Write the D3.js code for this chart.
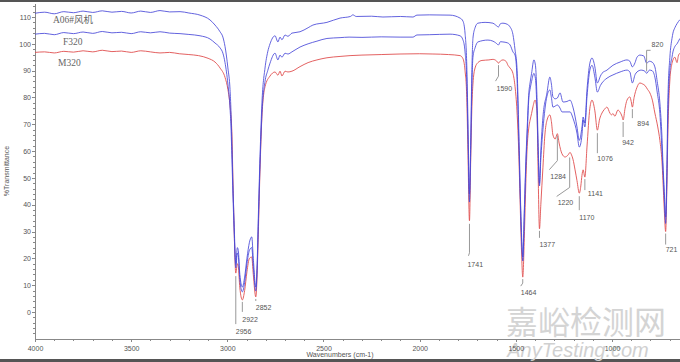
<!DOCTYPE html>
<html>
<head>
<meta charset="utf-8">
<script src="https://cdn.jsdelivr.net/npm/d3@7"></script>
<style>
  body { margin: 0; background: #fff; }
  svg { display: block; }
  .axis text { font-family: "Liberation Sans", Arial, sans-serif; font-size: 7px; fill: #555; }
  .axis path, .axis line { stroke: #888; shape-rendering: crispEdges; }
  .peak { font-family: "Liberation Sans", Arial, sans-serif; font-size: 7px; fill: #555; }
  .leader { stroke: #999; fill: none; stroke-width: 1; }
  .series-label { font-family: "Liberation Serif", "Noto Sans CJK SC", serif; font-size: 9.5px; fill: #666; }
</style>
</head>
<body>
<div id="graph"></div>
<script>
/*
    Spectra: [wavenumber, %T]
*/
var seriesNames = ["A06#风机", "F320", "M320"]

var a06 = [
  [4000,111.4],[3950,111.8],[3900,111.2],[3850,112],[3800,111.6],[3750,112.2],[3700,111.7],[3650,112.3],
  [3600,111.8],[3550,112.1],[3500,111.5],[3450,112.2],[3400,111.7],[3350,112.4],[3300,111.9],[3246,112.0],
  [3200,111.5],[3142,110.7],[3090,108.9],[3064,107],[3038,104.5],[3023,102.5],[3012,99],[2997,91],
  [2986,83],[2981,75],[2976,62],[2971,48],[2965,34],[2956,18],[2948,24],[2943,23],[2935,14],[2922,9.3],
  [2910,13],[2898,20],[2885,26],[2873,28],[2865,20],[2852,9.3],[2845,18],[2839,35],[2830,58],[2820,78],
  [2804,91],[2790,97],[2778,100],[2752,103],[2737,100.7],[2726,102.5],[2716,101.5],[2700,103.3],[2685,102.8],
  [2664,104],[2622,104.5],[2580,106],[2555,107],[2482,108],[2414,109.6],[2360,110.2],[2347,110.8],[2330,110.2],
  [2250,110.3],[2191,110],[2100,110.2],[2035,110],[2014,110.7],[1950,110.8],[1842,110.7],[1790,109.6],
  [1775,108.5],[1764,104],[1755,92],[1749,72],[1741,44],[1735,62],[1729,88],[1723,102],[1712,106],
  [1697,107.7],[1660,108],[1619,107.7],[1605,107],[1590,106.3],[1580,107.5],[1567,107.7],[1545,107.3],
  [1530,106.3],[1515,103.5],[1504,97.7],[1494,91],[1484,66.7],[1475,40],[1468,25],[1464,20.5],[1455,40],
  [1448,56],[1442,66.7],[1432,82],[1426,85.4],[1418,89],[1406,94],[1398,92],[1390,80],[1385,66],[1377,48],
  [1370,60],[1359,72.7],[1338,81.7],[1323,87.6],[1315,85],[1307,80.2],[1295,79.5],[1284,79.8],[1270,81.7],
  [1255,78.3],[1234,78.5],[1218,79],[1203,76.4],[1182,69],[1170,64],[1156,69],[1150,72.7],[1141,70.5],
  [1130,82.8],[1115,92.8],[1104,94.7],[1089,91.4],[1076,85.4],[1060,88],[1052,89],[1026,90.2],[995,92],
  [958,93.2],[922,94],[907,93.5],[894,91.4],[880,93],[870,95],[855,95.8],[835,95.5],[820,92.8],[805,93.5],
  [792,93.2],[777,91.4],[765,86],[751,78],[740,65],[735,55.6],[728,45],[721,35.4],[715,52],[709,80],
  [699,95],[688,102],[683,104],[673,106],[662,107.5],[647,109]
]

var f320 = [
  [4000,103.6],[3950,103.9],[3900,103.4],[3850,104.2],[3800,103.8],[3750,104.4],[3700,103.9],[3650,104.6],
  [3600,104.1],[3550,104.3],[3500,103.8],[3450,104.5],[3400,104.1],[3350,104.5],[3300,104],[3246,103.8],
  [3200,103.5],[3142,103],[3090,101.8],[3064,100.3],[3038,98.5],[3023,96.5],[3012,93],[2997,85],
  [2986,76],[2981,69],[2976,57],[2971,44],[2965,31],[2956,16.5],[2948,22],[2943,21],[2935,12],[2922,7.5],
  [2910,11],[2898,18],[2885,23],[2873,24],[2865,17],[2852,7.8],[2845,16],[2839,32],[2830,55],[2820,74],
  [2804,86],[2790,90],[2778,92.8],[2752,96.5],[2737,94],[2726,95.8],[2716,95],[2700,96.5],[2685,96.2],
  [2664,97],[2622,98.8],[2580,100],[2534,101],[2482,102],[2414,102.3],[2367,102.5],[2300,102.4],
  [2200,102.6],[2102,102.5],[2035,102.5],[2014,103.3],[1950,103.4],[1842,103.6],[1790,103],[1775,101.5],
  [1764,97],[1755,86],[1749,66],[1741,41],[1735,58],[1729,82],[1723,95],[1712,98.5],[1697,100.7],
  [1645,101.4],[1619,101],[1605,100.4],[1590,99.6],[1580,100.8],[1567,100.7],[1545,100.4],[1530,99.6],
  [1515,97],[1504,95.8],[1494,87.6],[1484,62],[1475,38],[1468,23],[1464,19],[1455,38],[1448,54],[1442,64],
  [1432,80],[1426,83],[1418,86],[1406,89],[1398,87],[1390,75],[1385,62],[1377,47],[1370,57],[1359,68],
  [1338,80.5],[1323,82.8],[1315,80],[1307,76.4],[1295,76.8],[1284,77.2],[1270,76],[1260,74.6],[1244,74.6],
  [1218,74.6],[1203,72.3],[1182,66.7],[1170,61.5],[1156,66],[1150,71.6],[1141,69],[1130,80.2],[1115,90.2],
  [1104,92],[1089,87.6],[1076,82],[1060,84.5],[1052,85.4],[1026,87.2],[995,88.4],[958,89.5],[922,90.2],
  [907,89.5],[894,85.4],[880,88.5],[870,89.5],[848,90.2],[829,89.8],[820,89],[805,90.2],[792,90],
  [777,87.6],[765,82],[751,74],[740,60],[735,53],[728,42],[721,33],[715,48],[709,74],[699,90],[688,95],
  [683,97],[673,99],[662,100],[647,102]
]

var m320 = [
  [4000,96.8],[3950,97.0],[3900,96.6],[3850,97.2],[3800,96.9],[3750,97.4],[3700,97.0],[3650,97.6],
  [3600,97.1],[3550,97.3],[3500,96.8],[3450,97.4],[3400,97.0],[3350,96.6],[3300,96.8],[3250,96.3],
  [3200,96.0],[3150,95.6],[3100,94.6],[3064,93.2],[3038,91.0],[3012,87.5],[2997,83],[2986,77],[2976,66],
  [2971,50],[2965,32],[2956,14.5],[2948,18],[2943,17],[2935,9],[2922,4.5],[2910,8],[2898,15],[2885,20],
  [2873,20.5],[2865,14],[2852,5.6],[2845,14],[2839,29],[2830,53],[2820,73],[2804,84],[2778,88],
  [2752,89.5],[2737,88.3],[2726,89.8],[2716,88],[2700,89.8],[2685,89.5],[2664,89.8],[2622,91.5],
  [2580,93],[2534,94],[2482,94.8],[2414,95.3],[2362,95.6],[2300,95.8],[2200,96],[2102,96.2],[2000,96.3],
  [1931,96.2],[1850,96],[1790,95.6],[1775,94.5],[1764,90],[1755,80],[1749,60],[1741,34],[1735,55],
  [1729,75],[1723,85],[1712,91],[1697,93],[1676,93.8],[1640,94],[1619,94.2],[1600,93.6],[1590,92.8],
  [1580,93.6],[1567,94],[1550,93.4],[1541,92],[1530,91],[1515,89],[1504,84],[1494,75],[1484,58],
  [1478,42],[1470,22],[1464,13],[1455,30],[1448,48],[1442,60],[1432,69],[1426,71.5],[1418,74],
  [1411,76.5],[1400,79],[1390,75],[1385,56],[1377,31],[1370,40],[1359,54],[1349,66],[1338,71.5],
  [1323,73.5],[1315,71],[1307,66],[1295,64.5],[1284,66.5],[1275,63],[1260,59],[1244,57.8],[1229,58.5],
  [1218,59.5],[1210,58.5],[1203,57],[1192,53],[1182,49],[1170,44.3],[1162,47],[1156,51],[1150,53],
  [1141,50.3],[1130,61.5],[1115,76],[1104,79],[1089,75],[1076,67.8],[1064,72],[1052,74.2],[1040,75.5],
  [1026,76.4],[1011,74.2],[1003,73.5],[995,74],[985,73],[969,75.3],[958,74.5],[948,73],[942,71.6],
  [932,76],[922,79],[907,80.2],[900,78.5],[894,76.4],[885,80],[870,83.8],[855,85.4],[840,85],[829,84.5],
  [815,83],[803,81.7],[790,79],[777,74.2],[762,69],[751,64],[740,56],[735,49],[728,38],[721,30],
  [715,45],[709,68],[699,86.5],[690,92],[683,94],[673,95],[662,93],[655,95.5],[647,96.5]
]

// Peak annotations
var peakWaves = [2956, 2922, 2852, 1741, 1590, 1464, 1377, 1284, 1220, 1170, 1141, 1076, 942, 894, 820, 721]
var peakSeries = ["M320", "M320", "M320", "M320", "M320", "M320", "M320", "M320", "M320", "M320", "M320", "M320", "M320", "M320", "F320", "M320"]

var xTicks = [4000, 3500, 3000, 2500, 2000, 1500, 1000]
var yTicks = [0, 10, 20, 30, 40, 50, 60, 70, 80, 90, 100, 110]

/*
    Size and scales
*/
var W = 680, H = 362

var svg = d3.select("#graph").append("svg")
    .attr("width", W)
    .attr("height", H)

var x = d3.scaleLinear().domain([4000, 650]).range([35, 679.3])
var y = d3.scaleLinear().domain([-10, 115]).range([338.8, 3.6])

// frame strips from the screenshot
svg.append("rect").attr("x", 0).attr("y", 0).attr("width", W).attr("height", 2).attr("fill", "#555")
svg.append("rect").attr("x", 0).attr("y", H - 3).attr("width", W).attr("height", 3).attr("fill", "#555")

// watermark
svg.append("text")
    .attr("x", 586).attr("y", 334)
    .attr("text-anchor", "middle")
    .style("font-family", "'Noto Sans CJK SC', sans-serif")
    .style("font-size", "32px")
    .style("fill", "#d4d4d4")
    .text("嘉峪检测网")
svg.append("text")
    .attr("x", 578).attr("y", 357)
    .attr("text-anchor", "middle")
    .style("font-family", "'Liberation Sans', Arial, sans-serif")
    .style("font-style", "italic")
    .style("font-size", "20px")
    .style("fill", "#d0d0d0")
    .text("AnyTesting.com")

/*
    Axes
*/
var xAxis = svg.append("g")
    .attr("class", "x axis")
    .attr("transform", "translate(0," + y(-10) + ")")
    .call(d3.axisBottom(x).tickValues(xTicks).tickSize(3).tickSizeOuter(0).tickFormat(d3.format("d")))
xAxis.selectAll("text").attr("dy", "0.9em")

svg.append("g")
    .attr("class", "x axis minor")
    .attr("transform", "translate(0," + y(-10) + ")")
    .call(d3.axisBottom(x).tickValues(d3.range(3900, 650, -100).filter(function(d) { return d % 500 != 0 }))
        .tickSize(2).tickSizeOuter(0).tickFormat(""))
    .select(".domain").remove()

var yAxis = svg.append("g")
    .attr("class", "y axis")
    .attr("transform", "translate(35,0)")
    .call(d3.axisLeft(y).tickValues(yTicks).tickSize(3).tickSizeOuter(0))
yAxis.selectAll("text").attr("x", -4)

svg.append("g")
    .attr("class", "y axis minor")
    .attr("transform", "translate(35,0)")
    .call(d3.axisLeft(y).tickValues(d3.range(-8, 115, 2).filter(function(d) { return d % 10 != 0 }))
        .tickSize(2).tickSizeOuter(0).tickFormat(""))
    .select(".domain").remove()

svg.append("text")
    .attr("class", "peak")
    .attr("transform", "translate(9,171) rotate(-90)")
    .attr("text-anchor", "middle")
    .text("%Transmittance")

svg.append("text")
    .attr("class", "peak")
    .attr("x", 340).attr("y", 357)
    .attr("text-anchor", "middle")
    .text("Wavenumbers (cm-1)")

/*
    Spectra
*/
var line = d3.line()
    .x(function(d) { return x(d[0]) })
    .y(function(d) { return y(d[1]) })
    .curve(d3.curveMonotoneX)

var clip = svg.append("clipPath").attr("id", "plot-clip")
    .append("rect").attr("x", 35).attr("y", 3).attr("width", W - 35).attr("height", 336)

var plot = svg.append("g").attr("clip-path", "url(#plot-clip)")

var seriesData = { "A06#风机": a06, "F320": f320, "M320": m320 }
var seriesColor = { "A06#风机": "#4848d8", "F320": "#4848d8", "M320": "#e05050" }

seriesNames.slice().reverse().forEach(function(name) {
    plot.append("path")
        .attr("d", line(seriesData[name]))
        .attr("fill", "none")
        .attr("stroke", seriesColor[name])
        .attr("stroke-width", 1)
        .attr("stroke-opacity", name == "M320" ? 0.9 : 0.85)
})

// series names
var labelPos = { "A06#风机": [53, 23], "F320": [63, 45], "M320": [58, 66] }
seriesNames.forEach(function(name) {
    svg.append("text")
        .attr("class", "series-label")
        .attr("x", labelPos[name][0])
        .attr("y", labelPos[name][1])
        .text(name)
})

/*
    Peak leaders: [gap, lineLength, bendDx, bendDy, textDx, textDy]
*/
var leaderLayout = {
    2956: [3, 48, 0, 0, 0, 10],
    2922: [2, 10, 0, 0, 0, 10],
    2852: [2, 2, 0, 0, 0, 9],
    1741: [3, 29, -1, 3, -2, 11],
    1590: [2, 11, -3, 5, -2, 10],
    1464: [2, 4, -2, 3, -2, 9],
    1377: [2, 7, 0, 0, 0, 9],
    1284: [2, 25, -8, 9, -7, 9],
    1220: [5, 30, -13, 9, -12, 9],
    1170: [3, 14, 0, 0, 0, 10],
    1141: [2, 11, 0, 0, 3, 6],
    1076: [3, 20, 0, 0, 0, 8],
    942:  [2, 15, 0, 0, -1, 8],
    894:  [2, 9, 0, 0, 5, 8],
    820:  [-2, -21, 4, 0, 5, -3],
    721:  [2, 11, 0, 0, 0, 7]
}

function valueAt(data, w) {
    var best = data[0]
    data.forEach(function(d) { if (Math.abs(d[0] - w) < Math.abs(best[0] - w)) best = d })
    return best[1]
}

peakWaves.forEach(function(w, i) {
    var lay = leaderLayout[w]
    var px = x(w)
    var py = y(valueAt(seriesData[peakSeries[i]], w))
    var y0 = py + lay[0]
    var y1 = y0 + lay[1]
    var pts = [[px, y0], [px, y1]]
    if (lay[2] != 0 || lay[3] != 0) pts.push([px + lay[2], y1 + lay[3]])
    svg.append("path")
        .attr("class", "leader")
        .attr("d", d3.line()(pts))
    var end = pts[pts.length - 1]
    svg.append("text")
        .attr("class", "peak")
        .attr("x", px + lay[4])
        .attr("y", (lay[1] < 0 ? y1 : end[1]) + lay[5])
        .text(w)
})
</script>
</body>
</html>
